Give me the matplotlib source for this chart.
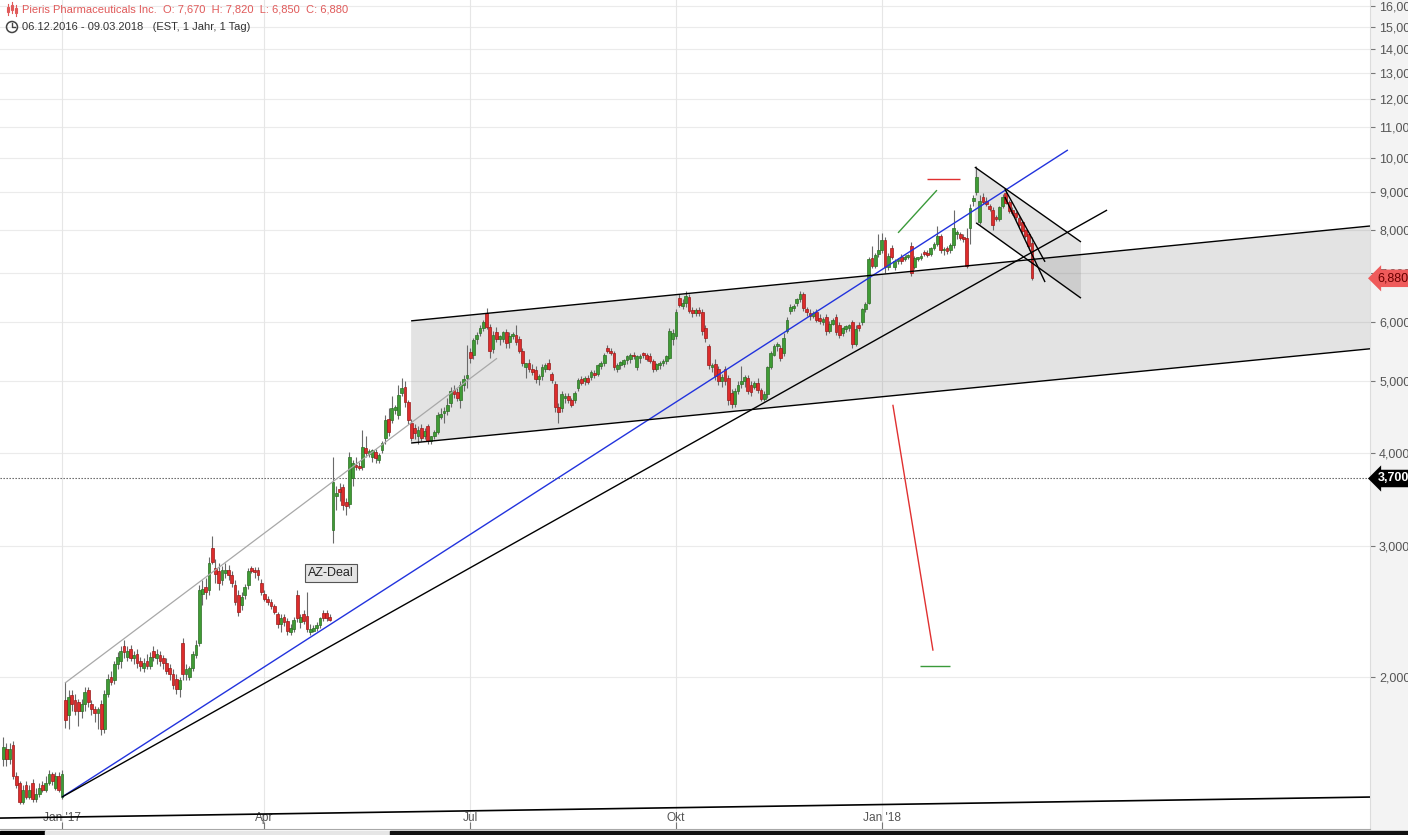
import matplotlib
matplotlib.use("Agg")
import matplotlib.pyplot as plt
import matplotlib.transforms as mtransforms
import numpy as np
import pandas as pd
from matplotlib.patches import Rectangle, Circle
from matplotlib.lines import Line2D
from matplotlib.ticker import NullLocator, FuncFormatter

plt.rcParams['font.family'] = ['Liberation Sans', 'DejaVu Sans']

# Handelstage 06.12.2016 - 09.03.2018 (US-Börsenfeiertage raus)
holidays = ['2016-12-26', '2017-01-02', '2017-01-16', '2017-02-20', '2017-04-14',
            '2017-05-29', '2017-07-04', '2017-09-04', '2017-11-23', '2017-12-25',
            '2018-01-01', '2018-01-15', '2018-02-19']
days = pd.bdate_range('2016-12-06', '2018-03-09', freq='C', holidays=holidays)

# OHLC, eine Zeile pro Monat (Dez 16 ... Mär 18)
opens = [
    1.55, 1.60, 1.55, 1.62, 1.47, 1.44, 1.36, 1.43, 1.38, 1.44, 1.37, 1.39, 1.43, 1.41, 1.44, 1.48, 1.42, 1.47,
    1.38, 1.86, 1.78, 1.89, 1.86, 1.85, 1.80, 1.84, 1.92, 1.84, 1.81, 1.79, 1.84, 1.70, 1.90, 2.00, 1.98, 2.08, 2.10, 2.20,
    2.13, 2.18, 2.12, 2.15, 2.10, 2.06, 2.10, 2.07, 2.17, 2.12, 2.14, 2.12, 2.09, 2.06, 2.02, 1.99, 1.93, 2.22, 2.02,
    2.00, 2.06, 2.14, 2.22, 2.59, 2.64, 2.62, 2.98, 2.80, 2.78, 2.70, 2.76, 2.79, 2.74, 2.66, 2.58, 2.50, 2.58, 2.66, 2.80, 2.79, 2.79, 2.68,
    2.59, 2.55, 2.52, 2.49, 2.43, 2.36, 2.41, 2.38, 2.30, 2.32, 2.58, 2.37, 2.43, 2.42, 2.30, 2.31, 2.33, 2.35, 2.44,
    2.44, 2.41, 3.15, 3.50, 3.58, 3.60, 3.44, 3.42, 3.70, 3.86, 3.84, 3.83, 4.07, 3.99, 3.95, 4.02, 3.92, 4.04, 4.20, 4.45, 4.43, 4.58,
    4.50, 4.82, 4.92, 4.69, 4.40, 4.32, 4.22, 4.33, 4.22, 4.35, 4.15, 4.22, 4.27, 4.48, 4.53, 4.56, 4.68, 4.86, 4.84, 4.72, 4.95, 5.05,
    5.48, 5.43, 5.70, 5.80, 5.90, 6.18, 5.92, 5.53, 5.83, 5.70, 5.70, 5.82, 5.65, 5.75, 5.78, 5.70, 5.50, 5.22, 5.30, 5.20,
    5.18, 5.03, 5.08, 5.20, 5.30, 5.12, 4.96, 4.62, 4.60, 4.75, 4.78, 4.72, 4.72, 4.90, 5.04, 5.00, 5.05, 5.06, 5.12, 5.12, 5.25, 5.30, 5.55,
    5.50, 5.46, 5.20, 5.26, 5.28, 5.34, 5.36, 5.43, 5.22, 5.38, 5.45, 5.42, 5.40, 5.32, 5.20, 5.26, 5.30, 5.32, 5.38, 5.70,
    5.75, 6.48, 6.32, 6.38, 6.50, 6.24, 6.18, 6.24, 6.20, 5.90, 5.58, 5.22, 5.28, 5.20, 5.00, 5.20, 5.05, 4.82, 4.66, 4.85, 4.96, 5.00,
    5.05, 4.95, 4.92, 4.98, 4.86, 4.74, 4.80, 5.22, 5.43, 5.58, 5.55, 5.45, 5.85, 6.22, 6.28, 6.38, 6.45, 6.55, 6.25, 6.18, 6.12,
    6.20, 6.08, 6.00, 6.10, 5.84, 5.98, 6.10, 5.95, 5.80, 5.88, 5.90, 6.00, 5.62, 5.95, 6.00, 6.25, 6.38, 7.32, 7.15, 7.42,
    7.50, 7.75, 7.12, 7.55, 7.12, 7.25, 7.35, 7.30, 7.34, 7.60, 7.12, 7.30, 7.32, 7.46, 7.45, 7.42, 7.55, 7.65, 7.85, 7.50, 7.55,
    7.50, 7.62, 7.88, 7.90, 7.82, 7.80, 8.05, 8.75, 9.00, 8.20, 8.85, 8.75, 8.60, 8.50, 8.32, 8.28, 8.60, 8.95, 8.72,
    8.50, 8.42, 8.30, 8.18, 7.98, 7.88, 7.67,
]
highs = [
    1.66, 1.63, 1.63, 1.64, 1.49, 1.45, 1.43, 1.45, 1.43, 1.46, 1.42, 1.44, 1.45, 1.47, 1.50, 1.49, 1.49, 1.49,
    1.50, 1.97, 1.92, 1.92, 1.90, 1.87, 1.87, 1.94, 1.94, 1.86, 1.83, 1.82, 1.86, 1.92, 2.02, 2.04, 2.10, 2.16, 2.20, 2.24,
    2.20, 2.21, 2.17, 2.18, 2.13, 2.12, 2.15, 2.16, 2.20, 2.18, 2.17, 2.14, 2.12, 2.08, 2.05, 2.02, 2.00, 2.26, 2.08,
    2.07, 2.17, 2.24, 2.66, 2.70, 2.72, 2.90, 3.10, 2.88, 2.85, 2.82, 2.85, 2.83, 2.78, 2.70, 2.62, 2.60, 2.67, 2.80, 2.82, 2.81, 2.81, 2.71,
    2.62, 2.57, 2.55, 2.51, 2.45, 2.43, 2.43, 2.40, 2.36, 2.41, 2.62, 2.43, 2.46, 2.60, 2.36, 2.35, 2.37, 2.41, 2.46,
    2.46, 2.43, 3.95, 3.62, 3.65, 3.64, 3.48, 4.02, 3.92, 3.95, 3.90, 4.30, 4.22, 4.06, 4.06, 4.06, 4.00, 4.15, 4.50, 4.60, 4.78, 4.65,
    4.95, 5.05, 5.00, 4.72, 4.45, 4.38, 4.35, 4.38, 4.33, 4.38, 4.22, 4.30, 4.55, 4.60, 4.62, 4.75, 4.92, 4.95, 4.90, 5.00, 5.10, 5.60,
    5.55, 5.72, 5.82, 5.95, 6.05, 6.28, 5.98, 5.85, 5.92, 5.78, 5.85, 5.88, 5.82, 5.82, 5.95, 5.75, 5.55, 5.30, 5.35, 5.28,
    5.25, 5.12, 5.28, 5.30, 5.35, 5.15, 5.00, 4.68, 4.85, 4.82, 4.82, 4.75, 4.85, 5.05, 5.08, 5.08, 5.10, 5.18, 5.18, 5.28, 5.33, 5.45, 5.60,
    5.55, 5.50, 5.30, 5.33, 5.36, 5.42, 5.45, 5.48, 5.43, 5.44, 5.48, 5.46, 5.45, 5.36, 5.30, 5.32, 5.36, 5.42, 5.90, 5.88,
    6.25, 6.55, 6.45, 6.62, 6.55, 6.30, 6.28, 6.30, 6.25, 5.95, 5.62, 5.30, 5.35, 5.25, 5.12, 5.25, 5.10, 4.88, 4.90, 5.00, 5.25, 5.10,
    5.10, 5.00, 5.00, 5.05, 4.90, 4.85, 5.25, 5.50, 5.62, 5.65, 5.60, 5.80, 6.10, 6.35, 6.35, 6.48, 6.62, 6.60, 6.30, 6.25, 6.22,
    6.25, 6.15, 6.10, 6.15, 6.02, 6.08, 6.15, 6.00, 5.92, 5.95, 5.98, 6.05, 5.95, 6.00, 6.28, 6.40, 7.35, 7.60, 7.45, 7.90,
    7.92, 7.82, 7.45, 7.62, 7.30, 7.32, 7.42, 7.40, 7.42, 7.70, 7.38, 7.36, 7.45, 7.50, 7.50, 7.58, 7.70, 8.10, 7.90, 7.58, 7.60,
    7.68, 8.50, 8.00, 7.95, 7.88, 8.05, 8.65, 8.90, 9.75, 8.90, 8.95, 8.85, 8.65, 8.58, 8.38, 8.62, 8.92, 9.05, 8.78,
    8.58, 8.48, 8.35, 8.22, 8.02, 7.92, 7.82,
]
lows = [
    1.52, 1.52, 1.53, 1.46, 1.42, 1.35, 1.35, 1.37, 1.37, 1.36, 1.36, 1.38, 1.40, 1.40, 1.43, 1.43, 1.41, 1.40,
    1.37, 1.71, 1.70, 1.80, 1.78, 1.72, 1.76, 1.80, 1.82, 1.78, 1.74, 1.70, 1.67, 1.68, 1.88, 1.95, 1.96, 2.05, 2.06, 2.12,
    2.10, 2.10, 2.08, 2.06, 2.04, 2.03, 2.05, 2.05, 2.10, 2.08, 2.07, 2.05, 2.02, 1.98, 1.93, 1.90, 1.88, 1.98, 1.98,
    1.98, 2.04, 2.12, 2.20, 2.50, 2.55, 2.58, 2.84, 2.68, 2.62, 2.66, 2.72, 2.70, 2.64, 2.50, 2.42, 2.46, 2.55, 2.63, 2.76, 2.72, 2.70, 2.58,
    2.53, 2.50, 2.47, 2.43, 2.33, 2.30, 2.34, 2.28, 2.28, 2.30, 2.37, 2.33, 2.36, 2.30, 2.28, 2.30, 2.31, 2.33, 2.38,
    2.38, 2.38, 3.03, 3.36, 3.45, 3.36, 3.30, 3.38, 3.62, 3.80, 3.80, 3.80, 3.96, 3.95, 3.90, 3.88, 3.88, 4.00, 4.12, 4.22, 4.40, 4.52,
    4.45, 4.78, 4.62, 4.38, 4.15, 4.18, 4.12, 4.15, 4.18, 4.12, 4.12, 4.18, 4.25, 4.45, 4.40, 4.50, 4.62, 4.75, 4.70, 4.60, 4.85, 4.90,
    5.30, 5.35, 5.62, 5.75, 5.85, 5.88, 5.38, 5.45, 5.65, 5.60, 5.65, 5.55, 5.55, 5.70, 5.60, 5.45, 5.25, 5.05, 5.15, 5.10,
    4.98, 4.95, 5.02, 5.15, 5.18, 4.98, 4.55, 4.40, 4.55, 4.68, 4.68, 4.62, 4.68, 4.85, 4.95, 4.95, 4.96, 5.02, 5.05, 5.08, 5.20, 5.25, 5.45,
    5.42, 5.18, 5.15, 5.20, 5.22, 5.28, 5.30, 5.36, 5.18, 5.30, 5.38, 5.32, 5.30, 5.15, 5.16, 5.20, 5.25, 5.28, 5.35, 5.60,
    5.70, 6.30, 6.25, 6.30, 6.18, 6.10, 6.12, 6.12, 5.78, 5.65, 5.20, 5.15, 5.02, 4.95, 4.92, 4.95, 4.65, 4.60, 4.62, 4.80, 4.90, 4.92,
    4.80, 4.78, 4.88, 4.82, 4.70, 4.70, 4.75, 5.20, 5.40, 5.50, 5.32, 5.40, 5.80, 6.15, 6.22, 6.32, 6.40, 6.22, 6.12, 6.05, 6.08,
    6.00, 5.98, 5.95, 5.78, 5.80, 5.95, 5.78, 5.72, 5.75, 5.82, 5.85, 5.55, 5.58, 5.85, 5.95, 6.20, 6.35, 7.10, 7.10, 7.35,
    7.45, 7.00, 7.05, 7.30, 7.05, 7.20, 7.20, 7.25, 7.30, 6.92, 7.08, 7.25, 7.28, 7.38, 7.35, 7.38, 7.50, 7.60, 7.45, 7.40, 7.42,
    7.45, 7.55, 7.78, 7.75, 7.70, 7.10, 7.65, 8.60, 8.90, 8.15, 8.65, 8.60, 8.48, 8.00, 8.22, 8.22, 8.55, 8.65, 8.42,
    8.38, 8.25, 8.05, 7.90, 7.80, 7.52, 6.85,
]
closes = [
    1.61, 1.55, 1.60, 1.47, 1.43, 1.36, 1.41, 1.38, 1.41, 1.37, 1.39, 1.42, 1.41, 1.44, 1.48, 1.45, 1.47, 1.41,
    1.48, 1.75, 1.88, 1.84, 1.80, 1.80, 1.84, 1.91, 1.85, 1.81, 1.79, 1.81, 1.70, 1.90, 1.99, 1.97, 2.08, 2.13, 2.17, 2.16,
    2.17, 2.12, 2.14, 2.09, 2.07, 2.09, 2.07, 2.13, 2.13, 2.15, 2.10, 2.09, 2.04, 2.02, 1.95, 1.93, 1.98, 2.02, 2.05,
    2.06, 2.15, 2.21, 2.62, 2.63, 2.60, 2.85, 2.86, 2.75, 2.68, 2.79, 2.79, 2.74, 2.68, 2.52, 2.45, 2.56, 2.64, 2.78, 2.78, 2.77, 2.74, 2.60,
    2.55, 2.52, 2.49, 2.45, 2.36, 2.40, 2.37, 2.31, 2.33, 2.39, 2.40, 2.41, 2.38, 2.32, 2.32, 2.33, 2.35, 2.40, 2.40,
    2.40, 2.39, 3.66, 3.54, 3.55, 3.41, 3.40, 3.95, 3.88, 3.83, 3.82, 4.08, 4.01, 4.03, 4.04, 3.94, 3.98, 4.13, 4.43, 4.27, 4.60, 4.62,
    4.79, 4.90, 4.69, 4.43, 4.20, 4.26, 4.30, 4.20, 4.29, 4.15, 4.22, 4.27, 4.50, 4.52, 4.56, 4.65, 4.85, 4.80, 4.75, 4.95, 5.03, 5.10,
    5.38, 5.68, 5.78, 5.90, 6.00, 5.92, 5.50, 5.78, 5.70, 5.75, 5.82, 5.63, 5.75, 5.77, 5.65, 5.50, 5.30, 5.30, 5.20, 5.15,
    5.03, 5.08, 5.22, 5.26, 5.20, 5.02, 4.62, 4.55, 4.80, 4.78, 4.72, 4.65, 4.82, 5.02, 4.98, 5.05, 4.99, 5.15, 5.10, 5.26, 5.30, 5.42, 5.50,
    5.46, 5.22, 5.26, 5.31, 5.34, 5.40, 5.42, 5.40, 5.40, 5.41, 5.42, 5.35, 5.33, 5.20, 5.28, 5.30, 5.32, 5.40, 5.85, 5.80,
    6.20, 6.34, 6.38, 6.52, 6.22, 6.18, 6.24, 6.18, 5.84, 5.72, 5.26, 5.26, 5.08, 5.00, 5.06, 5.00, 4.72, 4.66, 4.85, 4.95, 5.00, 5.06,
    4.85, 4.84, 4.97, 4.86, 4.74, 4.80, 5.22, 5.45, 5.58, 5.60, 5.38, 5.72, 6.05, 6.30, 6.32, 6.45, 6.55, 6.28, 6.20, 6.12, 6.18,
    6.05, 6.02, 6.06, 5.84, 5.98, 6.05, 5.82, 5.78, 5.90, 5.93, 5.95, 5.62, 5.88, 5.90, 6.25, 6.35, 7.30, 7.15, 7.40, 7.50,
    7.75, 7.12, 7.38, 7.35, 7.25, 7.28, 7.25, 7.36, 7.38, 7.00, 7.32, 7.33, 7.38, 7.42, 7.40, 7.55, 7.65, 7.85, 7.52, 7.54, 7.48,
    7.62, 8.05, 7.95, 7.80, 7.76, 7.15, 8.55, 8.82, 9.42, 8.75, 8.72, 8.65, 8.52, 8.12, 8.28, 8.58, 8.85, 8.70, 8.48,
    8.42, 8.32, 8.12, 7.96, 7.85, 7.60, 6.88,
]
assert len(opens) == len(highs) == len(lows) == len(closes) == len(days), \
    (len(opens), len(highs), len(lows), len(closes), len(days))

price_ticks = [2, 3, 4, 5, 6, 7, 8, 9, 10, 11, 12, 13, 14, 15, 16]
month_starts = ['2017-01-01', '2017-04-01', '2017-07-01', '2017-10-01', '2018-01-01']
month_labels = ["Jan '17", "Apr", "Jul", "Okt", "Jan '18"]
support_level = 3.70
last_close = closes[-1]

# eingezeichnete Trendlinien: (Tag-Index, Kurs) -> (Tag-Index, Kurs)
trend_lines = [
    ((18.9, 1.963), (151.2, 5.37), '#a8a8a8', 0.9),   # grauer Trendkanal
    ((18.0, 1.379), (326.0, 10.24), '#2233dd', 1.0),  # blau
    ((18.0, 1.379), (338.0, 8.50), 'black', 1.0),
    ((-1.0, 1.292), (418.5, 1.379), 'black', 1.2),
    ((124.9, 6.03), (418.5, 8.09), 'black', 1.0),     # Kanal oben
    ((124.9, 4.13), (418.5, 5.53), 'black', 1.0),     # Kanal unten
    ((297.5, 9.71), (330.0, 7.70), 'black', 1.0),     # Flagge oben
    ((297.9, 8.17), (330.0, 6.47), 'black', 1.0),     # Flagge unten
    ((306.7, 9.07), (319.0, 7.24), 'black', 1.0),
    ((306.7, 8.85), (319.0, 6.80), 'black', 1.0),
    ((274.0, 7.92), (285.9, 9.04), '#3a9a3a', 1.0),
    ((282.9, 9.36), (292.9, 9.36), '#e03030', 1.0),
    ((272.4, 4.65), (284.7, 2.17), '#e03030', 1.0),
    ((280.7, 2.07), (289.9, 2.07), '#3a9a3a', 1.0),
]
channel = [(124.9, 6.03, 4.13), (418.5, 8.09, 5.53)]
flag = [(297.5, 9.71, 8.17), (330.0, 7.70, 6.47)]

W, H = 1408, 835
fig = plt.figure(figsize=(W / 100, H / 100), dpi=100)
ax = fig.add_axes([0, 6 / H, 1370 / W, 829 / H])
ax.set_yscale('log')
ax.set_ylim(1.249, 16.295)
ax.set_xlim(-0.98, 418.5)

# Raster
for p in price_ticks:
    ax.axhline(p, color='#ebebeb', lw=0.8, zorder=0)
tick_idx = [int(np.searchsorted(days, pd.Timestamp(m))) for m in month_starts]
for t in tick_idx:
    ax.axvline(t, color='#e6e6e6', lw=0.8, zorder=0)

# graue Flächen
for poly in (channel, flag):
    (x0, u0, l0), (x1, u1, l1) = poly
    ax.fill([x0, x1, x1, x0], [u0, u1, l1, l0], color='#808080', alpha=0.22, lw=0, zorder=1)

# Kerzen
o = np.array(opens); h = np.array(highs); l = np.array(lows); c = np.array(closes)
x = np.arange(len(c))
up = c >= o
ax.vlines(x, l, h, color='#6a6a6a', lw=0.8, zorder=3)
bot = np.minimum(o, c)
top = np.maximum(np.maximum(o, c), bot * 1.006)
ax.bar(x[up], (top - bot)[up], bottom=bot[up], width=0.85, color='#3f9b35',
       edgecolor='#2c6e24', linewidth=0.5, zorder=4)
ax.bar(x[~up], (top - bot)[~up], bottom=bot[~up], width=0.85, color='#dd2c2c',
       edgecolor='#9a1a1a', linewidth=0.5, zorder=4)

for (xa, pa), (xb, pb), col, lw in trend_lines:
    ax.plot([xa, xb], [pa, pb], color=col, lw=lw, zorder=5, solid_capstyle='butt')

ax.axhline(support_level, color='#555555', lw=0.8, ls=(0, (1.2, 1.5)), zorder=2)

ax.text(100.4, 2.76, 'AZ-Deal', ha='center', va='center', fontsize=9, color='#222',
        bbox=dict(boxstyle='square,pad=0.25', fc='#e4e4e4', ec='#555', lw=0.8), zorder=6)

# Achsen
for s in ('top', 'left'):
    ax.spines[s].set_visible(False)
ax.spines['right'].set_color('#dcdcdc')
ax.spines['bottom'].set_color('#a8a8a8')
ax.yaxis.set_ticks_position('right')
ax.set_yticks(price_ticks)
ax.yaxis.set_minor_locator(NullLocator())
ax.yaxis.set_major_formatter(FuncFormatter(lambda v, pos: f"{v:.3f}".replace('.', ',')))
ax.tick_params(axis='y', direction='out', length=3.5, width=0.8, color='#777', pad=3,
               labelsize=9, labelcolor='#555')
ax.set_xticks(tick_idx)
ax.set_xticklabels([])
ax.xaxis.set_minor_locator(NullLocator())
ax.tick_params(axis='x', direction='in', length=5, width=0.8, color='#777')
xtrans = mtransforms.blended_transform_factory(ax.transData, fig.transFigure)
for t, lab in zip(tick_idx, month_labels):
    ax.text(t, 1 - 818 / H, lab, transform=xtrans, ha='center', va='center',
            fontsize=8.6, color='#555')

# rechte Preisleiste
fig.patches.append(Rectangle((1370 / W, 6 / H), 38 / W, 829 / H, transform=fig.transFigure,
                             color='#f3f3f3', zorder=-1))
ytrans = mtransforms.blended_transform_factory(ax.transAxes, ax.transData)
ax.text(1.0055, last_close, f"{last_close:.3f}".replace('.', ','), transform=ytrans,
        ha='left', va='center', fontsize=9, color='#6a0000', clip_on=False, zorder=10,
        bbox=dict(boxstyle='larrow,pad=0.22', fc='#ef5b5b', ec='none'))
ax.text(1.0055, support_level, f"{support_level:.3f}".replace('.', ','), transform=ytrans,
        ha='left', va='center', fontsize=9, color='white', fontweight='bold', clip_on=False,
        zorder=10, bbox=dict(boxstyle='larrow,pad=0.22', fc='black', ec='none'))

# Leiste unten
for x0, x1, col in ((0, 45, 'black'), (45, 390, '#e6e6e6'), (390, W, '#111111')):
    fig.patches.append(Rectangle((x0 / W, 0), (x1 - x0) / W, 4 / H, transform=fig.transFigure,
                                 color=col, zorder=5))

# Kopfzeile
fig.text(22 / W, 1 - 10 / H, 'Pieris Pharmaceuticals Inc.  O: 7,670  H: 7,820  L: 6,850  C: 6,880',
         color='#e05a5a', fontsize=8.0, va='center')
fig.text(22 / W, 1 - 27 / H, '06.12.2016 - 09.03.2018   (EST, 1 Jahr, 1 Tag)',
         color='#333333', fontsize=8.0, va='center')
px = mtransforms.IdentityTransform()
for k, (yb, yt) in enumerate(((5, 14), (3, 12), (6, 15))):
    xx = 8 + 4 * k
    fig.add_artist(Line2D([xx, xx], [H - yt - 1, H - yb + 1], color='#e05a5a', lw=0.8, transform=px))
    fig.add_artist(Rectangle((xx - 1.2, H - yt + 2), 2.4, yt - yb - 4, transform=px,
                             fc='none', ec='#e05a5a', lw=0.8))
fig.add_artist(Circle((12, H - 27), 5.5, transform=px, fc='none', ec='#444', lw=1.1))
fig.add_artist(Line2D([12, 12, 15], [H - 23, H - 27, H - 27], color='#444', lw=1.0, transform=px))

fig.savefig('out.png', dpi=100)
